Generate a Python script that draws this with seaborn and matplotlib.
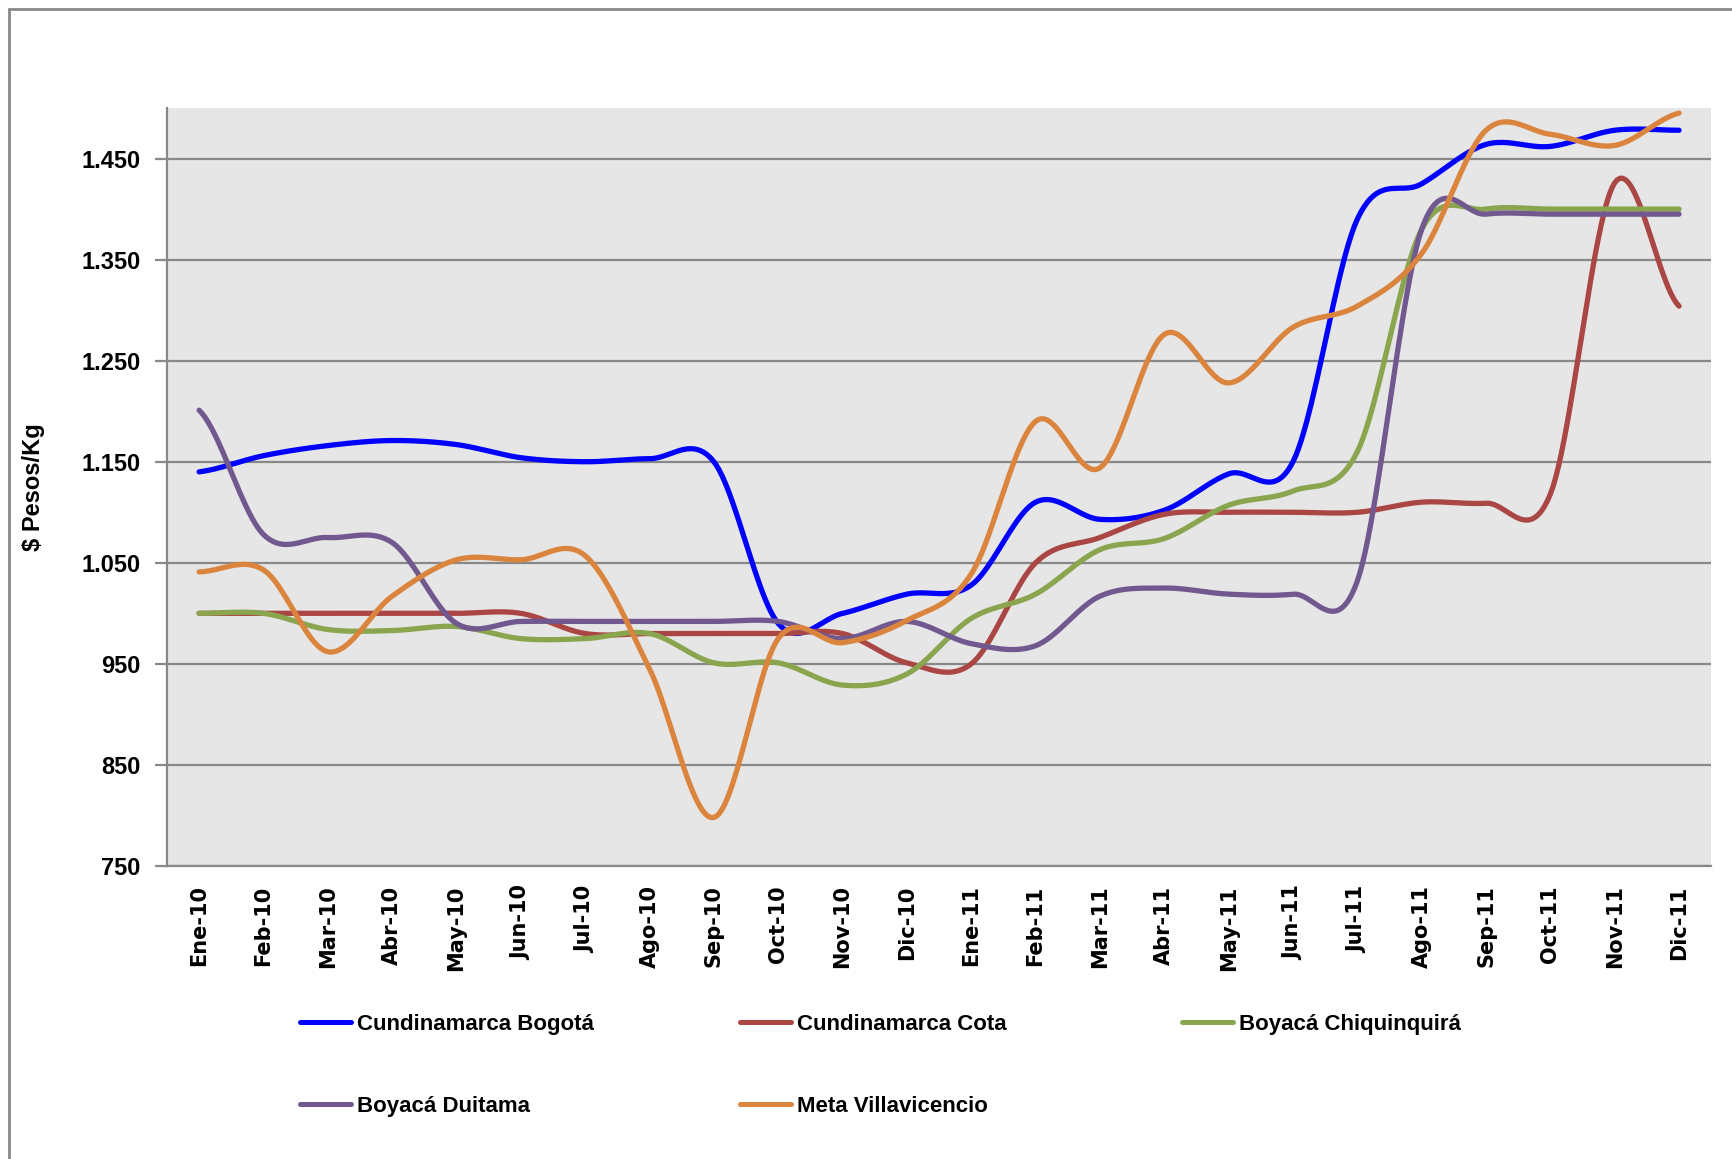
import numpy as np
import pandas as pd
import matplotlib
matplotlib.use("Agg")
import matplotlib.pyplot as plt
from matplotlib.lines import Line2D
import seaborn as sns

# Month labels
months = ['Ene-10', 'Feb-10', 'Mar-10', 'Abr-10', 'May-10', 'Jun-10', 'Jul-10', 'Ago-10',
          'Sep-10', 'Oct-10', 'Nov-10', 'Dic-10', 'Ene-11', 'Feb-11', 'Mar-11', 'Abr-11',
          'May-11', 'Jun-11', 'Jul-11', 'Ago-11', 'Sep-11', 'Oct-11', 'Nov-11', 'Dic-11']

# Prices ($ Pesos/Kg)
bogota = [1140, 1156, 1166, 1171, 1167, 1154, 1150, 1153, 1150, 990, 1000, 1019,
          1028, 1110, 1093, 1102, 1138, 1150, 1390, 1425, 1464, 1462, 1478, 1478]
cota = [1000, 1000, 1000, 1000, 1000, 1000, 980, 980, 980, 980, 980, 951,
        950, 1050, 1075, 1098, 1100, 1100, 1100, 1110, 1109, 1118, 1426, 1304]
chiquinquira = [1000, 1000, 984, 983, 987, 975, 975, 980, 951, 951, 929, 940,
                995, 1019, 1063, 1074, 1107, 1121, 1160, 1380, 1400, 1400, 1400, 1400]
duitama = [1201, 1078, 1075, 1070, 990, 992, 992, 992, 992, 992, 975, 992,
           970, 968, 1017, 1025, 1019, 1019, 1032, 1380, 1395, 1395, 1395, 1395]
villavicencio = [1041, 1043, 962, 1017, 1053, 1053, 1057, 945, 798, 975, 971, 993,
                 1039, 1190, 1144, 1276, 1228, 1283, 1304, 1356, 1478, 1474, 1463, 1495]

series = {
    'Cundinamarca Bogotá': bogota,
    'Cundinamarca Cota': cota,
    'Boyacá Chiquinquirá': chiquinquira,
    'Boyacá Duitama': duitama,
    'Meta Villavicencio': villavicencio,
}
colors = {
    'Cundinamarca Bogotá': '#0000FF',
    'Cundinamarca Cota': '#AA4643',
    'Boyacá Chiquinquirá': '#89A54E',
    'Boyacá Duitama': '#71588F',
    'Meta Villavicencio': '#DB843D',
}


def smooth(vals, n=24):
    # Excel-style smoothed line (Catmull-Rom through the data points)
    p = np.asarray(vals, dtype=float)
    p = np.concatenate([[p[0]], p, [p[-1]]])
    xs, ys = [], []
    for i in range(1, len(p) - 2):
        t = np.linspace(0, 1, n, endpoint=False)
        p0, p1, p2, p3 = p[i - 1], p[i], p[i + 1], p[i + 2]
        y = 0.5 * (2 * p1 + (-p0 + p2) * t + (2 * p0 - 5 * p1 + 4 * p2 - p3) * t ** 2
                   + (-p0 + 3 * p1 - 3 * p2 + p3) * t ** 3)
        xs.append(i - 1 + t)
        ys.append(y)
    xs.append([len(vals) - 1])
    ys.append([vals[-1]])
    return np.concatenate(xs), np.concatenate(ys)


rows = []
for name, vals in series.items():
    sx, sy = smooth(vals)
    rows.append(pd.DataFrame({'x': sx, 'y': sy, 'Serie': name}))
df = pd.concat(rows, ignore_index=True)

sns.set_style('white')
plt.rcParams['font.family'] = ['Liberation Sans', 'DejaVu Sans']
plt.rcParams['text.color'] = 'black'
plt.rcParams['axes.labelcolor'] = 'black'
plt.rcParams['xtick.labelcolor'] = 'black'
plt.rcParams['ytick.labelcolor'] = 'black'

fig = plt.figure(figsize=(17.32, 11.59), dpi=100)
ax = fig.add_axes([0.0964, 0.2528, 0.8916, 0.654])
ax.set_facecolor('#E6E6E6')

sns.lineplot(data=df, x='x', y='y', hue='Serie', palette=colors, sort=False,
             linewidth=3.8, ax=ax, legend=False, solid_capstyle='round', zorder=3)

ax.set_xlim(-0.5, len(months) - 0.5)
ax.set_ylim(750, 1500)
ax.set_yticks(range(750, 1451, 100))
ax.set_yticklabels([f'{v:,}'.replace(',', '.') for v in range(750, 1451, 100)],
                   fontsize=17, fontweight='bold')
ax.set_xticks(range(len(months)))
ax.set_xticklabels(months, rotation=90, fontsize=15, fontweight='bold',
                   family='DejaVu Sans')
ax.set_xticks(np.arange(-0.5, len(months), 1), minor=True)
ax.tick_params(axis='x', which='major', length=0, pad=14)
ax.tick_params(axis='x', which='minor', length=9, width=1.6, color='#888888', direction='out')
ax.tick_params(axis='y', length=9, width=1.6, color='#888888', direction='out', pad=10,
               left=True)
ax.grid(axis='y', color='#888888', linewidth=1.6, zorder=1)
ax.set_axisbelow(True)
for s in ['top', 'right']:
    ax.spines[s].set_visible(False)
for s in ['left', 'bottom']:
    ax.spines[s].set_color('#888888')
    ax.spines[s].set_linewidth(1.6)

ax.set_xlabel('')
ax.set_ylabel('$ Pesos/Kg', fontsize=17, fontweight='bold')
ax.yaxis.set_label_coords(-0.079, 0.5)

# legend: three equal-width columns, filled row-wise as in the original
columns = [['Cundinamarca Bogotá', 'Boyacá Duitama'],
           ['Cundinamarca Cota', 'Meta Villavicencio'],
           ['Boyacá Chiquinquirá']]
col_x = [300 / 1732, 740 / 1732, 1182 / 1732]
for cx, names in zip(col_x, columns):
    handles = [Line2D([0], [0], color=colors[k], lw=3.6, solid_capstyle='round')
               for k in names]
    fig.legend(handles, names, loc='upper left', bbox_to_anchor=(cx, 0.1255),
               frameon=False, borderpad=0, borderaxespad=0, handlelength=2.3,
               handletextpad=0.25, labelspacing=2.75,
               prop={'size': 16, 'weight': 'bold'})

# chart area border (left/top)
fig.add_artist(Line2D([9 / 1732, 9 / 1732], [0, 1 - 9 / 1159], color='#888888', lw=2))
fig.add_artist(Line2D([9 / 1732, 1], [1 - 9 / 1159, 1 - 9 / 1159], color='#888888', lw=2))

fig.savefig('out.png', dpi=100)
